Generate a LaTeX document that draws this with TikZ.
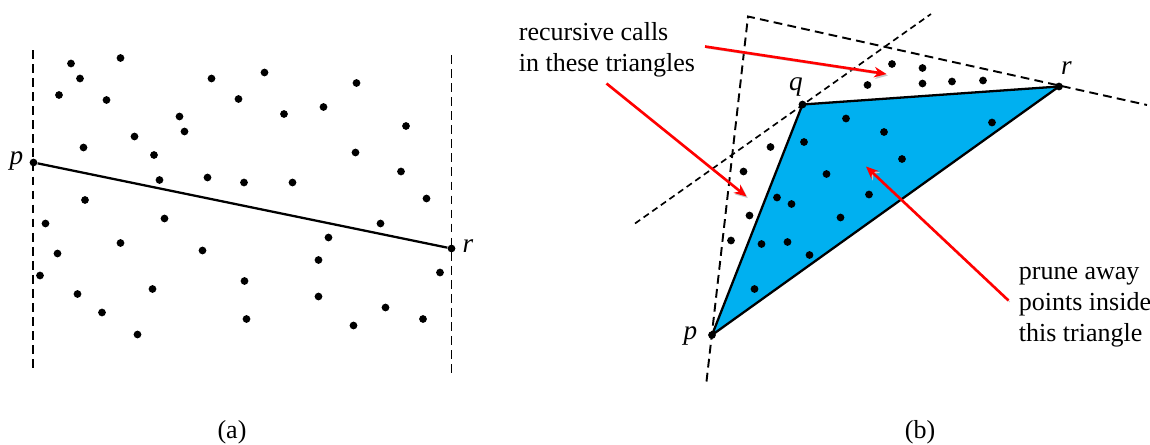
\documentclass[tikz,border=0pt]{standalone}
\usepackage{fontspec}
\setmainfont{Liberation Serif}
\usetikzlibrary{arrows.meta}
\definecolor{hullblue}{HTML}{00B0F0}

\begin{document}
\begin{tikzpicture}[
  font=\fontsize{14.8}{17.4}\selectfont,
  dot/.style={circle,fill=black,inner sep=0pt,minimum size=4.4pt},
  guide/.style={draw=black,line width=1.1pt,dash pattern=on 5pt off 3pt},
  fineguide/.style={draw=black,line width=.95pt,dash pattern=on 3.6pt off 2.4pt},
  chord/.style={draw=black,line width=1.3pt},
  hull/.style={draw=black,line width=1.3pt,fill=hullblue,line join=round},
  pointer/.style={draw=red,line width=1.5pt,-{Stealth[length=7pt,width=6pt]},
    preaction={draw=black!22,transform canvas={shift={(.8pt,-.9pt)}}}},
  vlabel/.style={font=\fontsize{15.5}{17.4}\selectfont\itshape,anchor=base},
  note/.style={align=left,anchor=base west,inner xsep=0pt}
]
\useasboundingbox (0,0) rectangle (23,8.88);

% (a): the chord p--r between two vertical guides
\coordinate (la1) at (0.66,7.88); \coordinate (la2) at (0.66,1.44);
\coordinate (ra1) at (9.03,7.78); \coordinate (ra2) at (9.03,1.34);
\draw[guide] (la1) -- (la2);
\draw[guide] (ra1) -- (ra2);
\node[dot] (pa) at (0.67,5.63) {};
\node[dot] (ra) at (9.03,3.91) {};
\draw[chord] (pa) -- (ra);
\node[vlabel] at (0.33,5.60) {p};
\node[vlabel] at (9.36,3.84) {r};

\node[dot] (a1) at (1.42,7.61) {}; \node[dot] (a2) at (2.41,7.72) {}; \node[dot] (a3) at (1.60,7.31) {};
\node[dot] (a4) at (1.18,6.98) {}; \node[dot] (a5) at (2.13,6.88) {}; \node[dot] (a6) at (4.23,7.31) {};
\node[dot] (a7) at (5.29,7.43) {}; \node[dot] (a8) at (4.77,6.90) {}; \node[dot] (a9) at (7.13,7.22) {};
\node[dot] (a10) at (5.68,6.60) {}; \node[dot] (a11) at (6.47,6.74) {}; \node[dot] (a12) at (3.59,6.55) {};
\node[dot] (a13) at (3.69,6.25) {}; \node[dot] (a14) at (2.69,6.15) {}; \node[dot] (a15) at (1.67,5.93) {};
\node[dot] (a16) at (3.08,5.78) {}; \node[dot] (a17) at (8.12,6.36) {}; \node[dot] (a18) at (7.11,5.83) {};
\node[dot] (a19) at (8.02,5.45) {}; \node[dot] (a20) at (3.19,5.28) {}; \node[dot] (a21) at (4.15,5.33) {};
\node[dot] (a22) at (4.88,5.23) {}; \node[dot] (a23) at (5.85,5.23) {}; \node[dot] (a24) at (8.53,4.91) {};
\node[dot] (a25) at (1.70,4.88) {}; \node[dot] (a26) at (0.91,4.41) {}; \node[dot] (a27) at (3.29,4.51) {};
\node[dot] (a28) at (7.61,4.41) {}; \node[dot] (a29) at (6.57,4.13) {}; \node[dot] (a30) at (2.41,4.02) {};
\node[dot] (a31) at (4.05,3.87) {}; \node[dot] (a32) at (1.15,3.81) {}; \node[dot] (a33) at (6.37,3.68) {};
\node[dot] (a34) at (8.80,3.43) {}; \node[dot] (a35) at (0.80,3.37) {}; \node[dot] (a36) at (4.89,3.26) {};
\node[dot] (a37) at (3.05,3.10) {}; \node[dot] (a38) at (1.55,3.00) {}; \node[dot] (a39) at (6.37,2.95) {};
\node[dot] (a40) at (7.71,2.73) {}; \node[dot] (a41) at (2.04,2.63) {}; \node[dot] (a42) at (4.93,2.50) {};
\node[dot] (a43) at (8.46,2.50) {}; \node[dot] (a44) at (7.07,2.37) {}; \node[dot] (a45) at (2.75,2.19) {};

\node (capa) at (4.64,0.12) [anchor=base] {(a)};

% (b): the triangle pqr and the two regions left for recursion
\coordinate (pb0) at (14.24,2.18);
\coordinate (qb0) at (16.05,6.79);
\coordinate (rb0) at (21.18,7.15);
\filldraw[hull] (pb0) -- (qb0) -- (rb0) -- cycle;

\coordinate (g1) at (14.13,1.25); \coordinate (g2) at (14.96,8.55); \coordinate (g3) at (22.94,6.78);
\draw[guide] (g1) -- (g2) -- (g3);
\coordinate (h1) at (12.70,4.41); \coordinate (h2) at (18.62,8.60);
\draw[fineguide] (h1) -- (h2);

\node[dot] (pb) at (pb0) {};
\node[dot] (qb) at (qb0) {};
\node[dot] (rb) at (rb0) {};
\node[vlabel] at (13.81,2.10) {p};
\node[vlabel] at (15.92,7.08) {q};
\node[vlabel] at (21.33,7.39) {r};

\node[dot] (b1) at (17.84,7.60) {}; \node[dot] (b2) at (18.45,7.52) {}; \node[dot] (b3) at (17.35,7.18) {};
\node[dot] (b4) at (18.45,7.21) {}; \node[dot] (b5) at (19.04,7.25) {}; \node[dot] (b6) at (19.66,7.27) {};
\node[dot] (b7) at (16.92,6.51) {}; \node[dot] (b8) at (19.84,6.43) {}; \node[dot] (b9) at (17.68,6.24) {};
\node[dot] (b10) at (16.08,6.04) {}; \node[dot] (b11) at (15.41,5.94) {}; \node[dot] (b12) at (18.04,5.70) {};
\node[dot] (b13) at (14.87,5.45) {}; \node[dot] (b14) at (16.53,5.40) {}; \node[dot] (b15) at (17.38,4.99) {};
\node[dot] (b16) at (15.54,4.93) {}; \node[dot] (b17) at (15.83,4.80) {}; \node[dot] (b18) at (14.99,4.57) {};
\node[dot] (b19) at (16.81,4.53) {}; \node[dot] (b20) at (14.62,4.07) {}; \node[dot] (b21) at (15.23,4.00) {};
\node[dot] (b22) at (15.75,4.04) {}; \node[dot] (b23) at (16.19,3.78) {}; \node[dot] (b24) at (15.09,3.10) {};

% labels are anchored on the baseline of their last line
\node[note] (calls) at (10.37,7.46) {recursive calls\\in these triangles};
\coordinate (c1s) at (14.10,7.95); \coordinate (c1e) at (17.73,7.40);
\coordinate (c2s) at (12.13,7.21); \coordinate (c2e) at (14.93,4.95);
\draw[pointer] (c1s) -- (c1e);
\draw[pointer] (c2s) -- (c2e);

\node[note] (prune) at (20.37,2.06) {prune away\\points inside\\this triangle};
\coordinate (c3s) at (20.17,2.87); \coordinate (c3e) at (17.32,5.55);
\draw[pointer] (c3s) -- (c3e);

\node (capb) at (18.40,0.12) [anchor=base] {(b)};
\end{tikzpicture}
\end{document}
